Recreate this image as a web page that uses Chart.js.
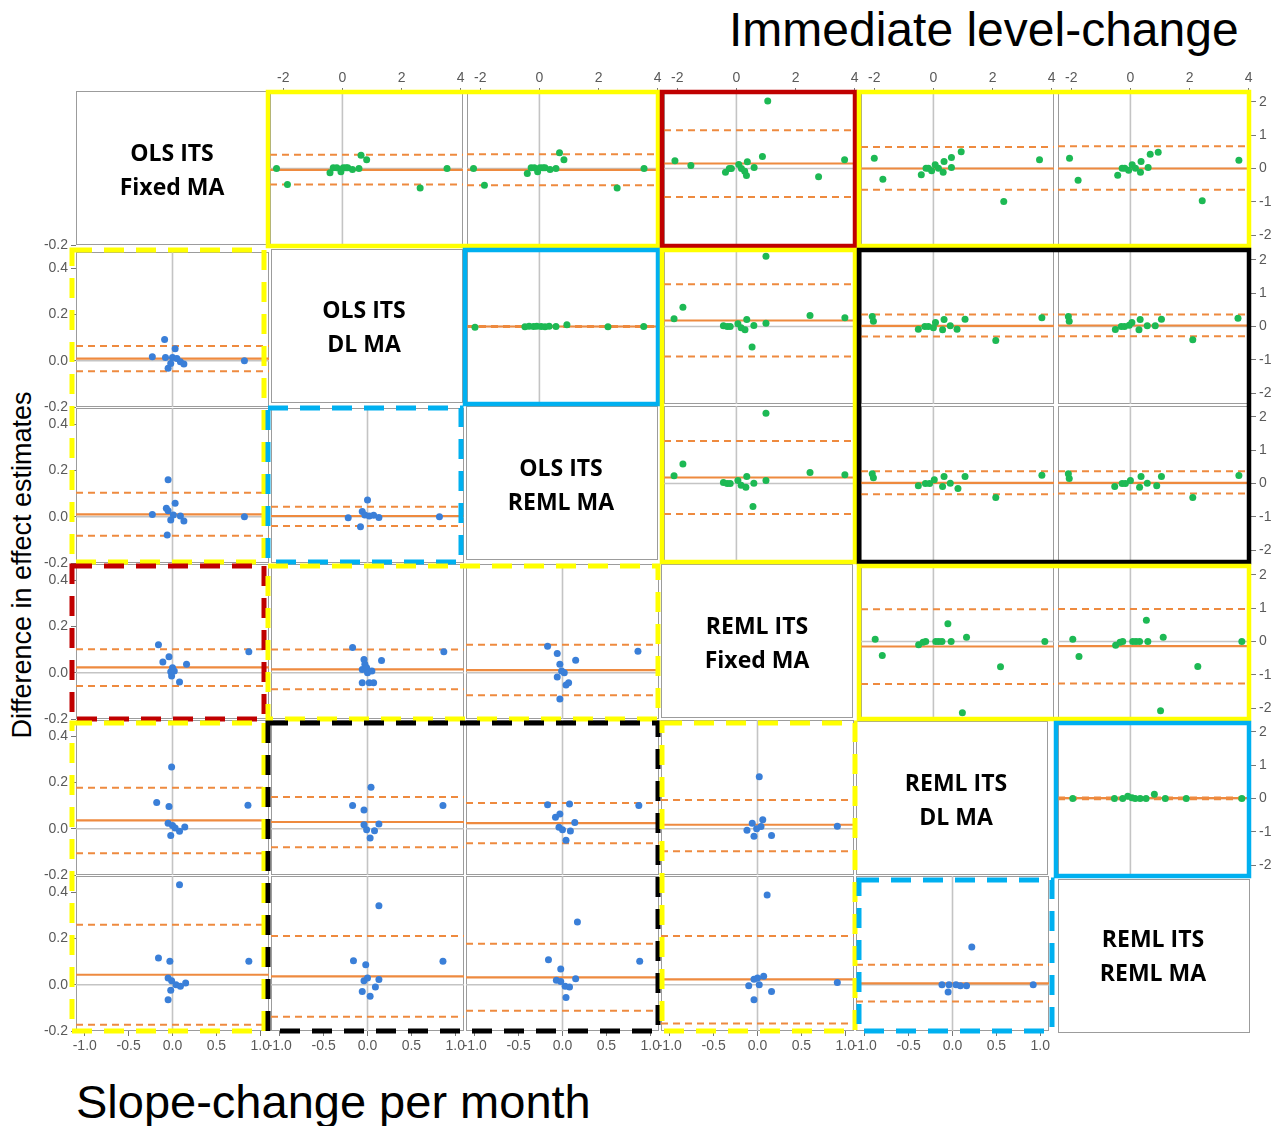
<!DOCTYPE html>
<html><head><meta charset="utf-8">
<script src="https://cdn.jsdelivr.net/npm/chart.js@4"></script>
<style>
html,body{margin:0;padding:0;background:#fff;}
body{width:1272px;height:1126px;overflow:hidden;position:relative;font-family:"Liberation Sans",Arial,sans-serif;}
canvas.p{position:absolute;}
.lab{position:absolute;width:220px;text-align:center;font-family:"Open Sans",sans-serif;font-weight:700;font-size:23px;line-height:34px;color:#000;}
.ttl{position:absolute;white-space:nowrap;color:#000;font-family:"Liberation Sans",Arial,sans-serif;}
svg{position:absolute;left:0;top:0;}
</style></head><body>
<div class="ttl" style="left:729px;top:2px;font-size:48px;">Immediate level-change</div>
<div class="ttl" style="left:76px;top:1074px;font-size:47px;">Slope-change per month</div>
<div class="ttl" style="left:22px;top:565px;font-size:27px;transform:translate(-50%,-50%) rotate(-90deg);">Difference in effect estimates</div>
<script>
// ---------- labels ----------
const methodNames = [["OLS ITS","Fixed MA"],["OLS ITS","DL MA"],["OLS ITS","REML MA"],["REML ITS","Fixed MA"],["REML ITS","DL MA"],["REML ITS","REML MA"]];
const upperXTicks = [-2,0,2,4];
const upperYTicks = [-2,-1,0,1,2];
const lowerXTicks = [-1,-0.5,0,0.5,1];
const lowerYTicks = [-0.2,0,0.2,0.4];

// ---------- upper triangle: immediate level-change (x = mean, y = difference); stats = [mean, lower LoA, upper LoA] ----------
const U01x = [-2.23,-1.86,-0.42,-0.31,-0.19,-0.05,0.03,0.12,0.18,0.34,0.56,0.63,0.82,2.63,3.54];
const U01y = [0,-0.48,-0.13,0.02,0.02,-0.10,0.02,0.02,0.02,-0.03,0,0.40,0.26,-0.59,0];
const U01s = [-0.04,-0.48,0.41];
const U02x = [-2.23,-1.86,-0.41,-0.28,-0.17,-0.06,0.02,0.12,0.19,0.36,0.56,0.68,0.83,2.63,3.54];
const U02y = [0,-0.50,-0.15,0.02,0.02,-0.10,0.02,0.02,0.02,-0.03,0,0.47,0.26,-0.59,0];
const U02s = [-0.04,-0.50,0.43];
const U03x = [-2.08,-1.54,-0.37,-0.24,-0.17,0.08,0.17,0.28,0.34,0.37,0.60,0.88,1.06,2.78,3.66];
const U03y = [0.23,0.09,-0.11,0,0,0.12,0,-0.08,-0.21,0.20,0.03,0.36,2.03,-0.25,0.26];
const U03s = [0.15,-0.86,1.15];
const U04x = [-2.0,-1.71,-0.41,-0.25,-0.17,-0.06,0.06,0.17,0.33,0.36,0.61,0.61,0.94,2.38,3.59];
const U04y = [0.31,-0.32,-0.19,0.01,0.01,-0.07,0.11,0.01,-0.11,0.21,0.33,0.03,0.50,-0.99,0.26];
const U04s = [0.0,-0.64,0.65];
const U05x = [-2.06,-1.77,-0.43,-0.28,-0.19,-0.06,0.06,0.17,0.34,0.36,0.60,0.67,0.94,2.43,3.67];
const U05y = [0.31,-0.35,-0.20,0.01,0.01,-0.05,0.11,0.01,-0.11,0.21,0.03,0.43,0.49,-0.97,0.25];
const U05s = [0.0,-0.64,0.67];
const U12x = [-2.18,-0.49,-0.35,-0.2,-0.09,0.06,0.19,0.33,0.56,0.93,2.32,3.53];
const U12y = [-0.02,-0.01,0.01,0,0.01,0,-0.01,0.01,0,0.05,-0.01,0];
const U12s = [0.0,-0.015,0.015];
const U13x = [-2.11,-1.81,-0.44,-0.31,-0.21,0.05,0.16,0.29,0.35,0.53,0.59,1.0,1.0,2.49,3.67];
const U13y = [0.23,0.58,0.02,0,0,0.08,-0.04,-0.10,0.21,-0.62,0.03,2.11,0.10,0.33,0.26];
const U13s = [0.18,-0.90,1.27];
const U14x = [-2.07,-2.03,-0.51,-0.29,-0.17,0,0.07,0.31,0.36,0.57,0.8,1.07,2.11,3.67];
const U14y = [0.30,0.16,-0.08,0,0,-0.04,0.12,-0.10,0.21,0.02,-0.08,0.22,-0.42,0.26];
const U14s = [0.02,-0.30,0.36];
const U15x = [-2.1,-2.07,-0.51,-0.31,-0.2,-0.04,0.05,0.29,0.33,0.57,0.84,1.05,2.11,3.64];
const U15y = [0.30,0.16,-0.09,0,0,0.04,0.12,-0.10,0.21,0.02,0.02,0.22,-0.40,0.25];
const U15s = [0.03,-0.29,0.36];
const U23x = [-2.11,-1.81,-0.44,-0.31,-0.21,0.05,0.16,0.32,0.35,0.56,0.59,1.0,1.0,2.49,3.67];
const U23y = [0.23,0.59,0.03,0,0,0.09,-0.05,-0.11,0.21,-0.69,0.01,2.11,0.09,0.33,0.26];
const U23s = [0.18,-0.92,1.28];
const U24x = [-2.07,-2.03,-0.51,-0.27,-0.13,0.03,0.31,0.36,0.57,0.83,1.07,2.11,3.67];
const U24y = [0.29,0.17,-0.07,0,0,0.11,-0.09,0.21,0.01,-0.15,0.21,-0.42,0.25];
const U24s = [0.02,-0.32,0.37];
const U25x = [-2.1,-2.07,-0.53,-0.28,-0.17,0,0.31,0.36,0.57,0.89,1.05,2.11,3.67];
const U25y = [0.29,0.15,-0.09,0,0,0.09,-0.11,0.21,0.01,-0.07,0.21,-0.42,0.24];
const U25s = [0.02,-0.30,0.37];
const U34x = [-1.97,-1.73,-0.5,-0.35,-0.26,0.08,0.18,0.29,0.49,0.6,0.98,1.12,2.27,3.77];
const U34y = [0.07,-0.42,-0.10,-0.02,0,0,0,0,0.53,0,-2.14,0.13,-0.76,0];
const U34s = [-0.15,-1.28,0.97];
const U35x = [-1.95,-1.74,-0.5,-0.35,-0.26,0.08,0.19,0.31,0.54,0.59,1.02,1.11,2.28,3.77];
const U35y = [0.07,-0.45,-0.11,-0.02,0,0,0,0,0.64,0,-2.08,0.13,-0.75,0];
const U35s = [-0.14,-1.26,0.98];
const U45x = [-1.95,-0.54,-0.26,-0.09,0.05,0.16,0.33,0.53,0.81,1.18,1.89,3.77];
const U45y = [0,0,0,0.07,0.02,0,0,0,0.13,0,0,0];
const U45s = [0.01,-0.02,0.03];

// ---------- lower triangle: slope-change per month ----------
const L10x = [-0.23,-0.09,-0.08,-0.05,-0.02,0.0,0.03,0.05,0.09,0.13,0.82];
const L10y = [0.017,0.092,0.014,-0.033,-0.012,0.014,0.052,0.01,-0.004,-0.014,0.0];
const L10s = [0.009,-0.046,0.064];
const L20x = [-0.23,-0.05,-0.07,-0.05,0.03,-0.02,0.01,0.09,0.13,-0.06,0.82];
const L20y = [0.01,0.16,0.036,0.026,0.058,-0.014,0.007,0.003,-0.019,-0.079,0.0];
const L20s = [0.01,-0.082,0.104];
const L21x = [-0.22,-0.08,-0.06,0,-0.03,0.02,0.07,0.13,0.82];
const L21y = [-0.004,-0.043,0.022,0.072,0.007,0.003,0.006,-0.003,0.0];
const L21s = [0.003,-0.04,0.043];
const L30x = [-0.16,-0.11,-0.04,-0.02,0,0.02,-0.01,0.08,0.16,0.87];
const L30y = [0.121,0.046,0.069,0.004,0.021,0.007,-0.014,-0.04,0.037,0.091];
const L30s = [0.023,-0.057,0.101];
const L31x = [-0.17,-0.06,-0.06,-0.04,-0.03,-0.01,0,0.02,0.07,0.05,0.16,0.87];
const L31y = [0.109,0.014,-0.043,0.057,0.036,0.021,0,-0.043,-0.043,0.007,0.053,0.091];
const L31s = [0.014,-0.071,0.10];
const L32x = [-0.17,-0.06,-0.03,-0.06,-0.01,0.02,-0.03,0.04,0.07,0.15,0.86];
const L32y = [0.114,0.083,0.036,-0.019,0.007,0,-0.114,-0.053,-0.043,0.054,0.093];
const L32s = [0.011,-0.097,0.121];
const L40x = [-0.18,-0.04,-0.01,-0.05,-0.02,0,0.03,0.08,0.14,0.86];
const L40y = [0.113,0.096,0.267,0.024,-0.029,0.014,0.003,-0.011,0.007,0.101];
const L40s = [0.036,-0.106,0.177];
const L41x = [-0.17,-0.04,0.04,-0.04,-0.01,0.03,0.08,0.13,0.86];
const L41y = [0.1,0.081,0.179,0.017,-0.004,-0.04,-0.009,0.02,0.1];
const L41s = [0.029,-0.08,0.137];
const L42x = [-0.17,-0.08,-0.03,0.08,-0.04,0,0.04,0.09,0.14,0.87];
const L42y = [0.103,0.049,0.064,0.107,0.006,-0.004,-0.05,-0.01,0.027,0.1];
const L42s = [0.024,-0.063,0.111];
const L43x = [0.02,-0.12,-0.06,-0.04,-0.01,0.04,0.06,0.16,0.91];
const L43y = [0.224,-0.007,0.024,-0.033,0,0.01,0.039,-0.029,0.011];
const L43s = [0.017,-0.097,0.124];
const L50x = [-0.16,-0.03,0.08,-0.05,-0.01,-0.02,-0.05,0.04,0.09,0.15,0.87];
const L50y = [0.115,0.101,0.432,0.029,0.017,-0.024,-0.065,0,-0.007,0.007,0.101];
const L50s = [0.043,-0.173,0.259];
const L51x = [-0.16,-0.02,0.13,-0.04,0,-0.06,0.03,0.09,0.13,0.86];
const L51y = [0.104,0.086,0.341,0.017,0.029,-0.029,-0.05,-0.01,0.022,0.101];
const L51s = [0.036,-0.138,0.21];
const L52x = [-0.16,-0.02,0.17,-0.07,-0.02,0.03,0.08,0.04,0.15,0.88];
const L52y = [0.108,0.068,0.271,0.019,0.014,-0.007,-0.01,-0.055,0.026,0.101];
const L52s = [0.032,-0.112,0.177];
const L53x = [0.11,-0.1,-0.04,0,0.07,-0.04,0.02,0.16,0.91];
const L53y = [0.388,-0.004,0.024,0.029,0.036,-0.065,0,-0.029,0.01];
const L53s = [0.023,-0.168,0.21];
const L54x = [0.22,-0.12,-0.05,-0.04,0.04,0.09,0.16,0.92];
const L54y = [0.163,0,-0.032,0,0,-0.004,-0.004,0];
const L54s = [0.006,-0.073,0.086];

const upperPanels = [
  [0,1,U01x,U01y,U01s],[0,2,U02x,U02y,U02s],[0,3,U03x,U03y,U03s],[0,4,U04x,U04y,U04s],[0,5,U05x,U05y,U05s],
  [1,2,U12x,U12y,U12s],[1,3,U13x,U13y,U13s],[1,4,U14x,U14y,U14s],[1,5,U15x,U15y,U15s],
  [2,3,U23x,U23y,U23s],[2,4,U24x,U24y,U24s],[2,5,U25x,U25y,U25s],
  [3,4,U34x,U34y,U34s],[3,5,U35x,U35y,U35s],
  [4,5,U45x,U45y,U45s]
];
const lowerPanels = [
  [1,0,L10x,L10y,L10s],
  [2,0,L20x,L20y,L20s],[2,1,L21x,L21y,L21s],
  [3,0,L30x,L30y,L30s],[3,1,L31x,L31y,L31s],[3,2,L32x,L32y,L32s],
  [4,0,L40x,L40y,L40s],[4,1,L41x,L41y,L41s],[4,2,L42x,L42y,L42s],[4,3,L43x,L43y,L43s],
  [5,0,L50x,L50y,L50s],[5,1,L51x,L51y,L51s],[5,2,L52x,L52y,L52s],[5,3,L53x,L53y,L53s],[5,4,L54x,L54y,L54s]
];

// ---------- layout ----------
const UX=[-2.45,4.08], UY=[-2.33,2.33], LX=[-1.1,1.1], LY=[-0.2,0.4696];
function upperRect(r,c){const x0=342.7+196.8*(c-1), y0=169+157.5*r;
  return {left:Math.round(x0+UX[0]*29.5), top:Math.round(y0-UY[1]*33.3), w:Math.round((UX[1]-UX[0])*29.5), h:Math.round((UY[1]-UY[0])*33.3)};}
function lowerRect(r,c){const x0=172.3+195*c, y0=360.7+156.1*(r-1);
  return {left:Math.round(x0+LX[0]*87.5), top:Math.round(y0-LY[1]*231.5), w:Math.round((LX[1]-LX[0])*87.5), h:Math.round((LY[1]-LY[0])*231.5)};}

const ORANGE='#EE8A3F', GREEN='#1DB954', BLUE='#3A7FD8', ZERO='#C4C4C4';
const framePlugin={id:'frame',beforeDatasetsDraw(c){const a=c.chartArea,ctx=c.ctx;ctx.save();ctx.strokeStyle='#9c9c9c';ctx.lineWidth=1;
  ctx.strokeRect(a.left+0.5,a.top+0.5,a.right-a.left-1,a.bottom-a.top-1);ctx.restore();}};

function scaleCfg(horizontal,pos,show,range,ticksVals,fmt,size,tickLen,pad){
  return {type:'linear',position:pos,min:range[0],max:range[1],display:show,
    grid:{display:show,drawOnChartArea:false,drawTicks:true,tickLength:tickLen,color:'#777',lineWidth:1},
    border:{display:false},
    ticks:{font:{family:'Liberation Sans',size:14},color:'#595959',padding:pad,autoSkip:false,maxRotation:0,
      callback:(v)=>fmt(v)},
    afterBuildTicks:(s)=>{s.ticks=ticksVals.map(v=>({value:v}));},
    afterFit:(s)=>{
      if(show){ if(horizontal){s.height=size;}else{s.width=size;} }
      else { s.width=0; s.height=0; }
      s.paddingLeft=0;s.paddingRight=0;s.paddingTop=0;s.paddingBottom=0;}
  };
}

function makeChart(o){
  const E=16,L=58,R=28,T=22,B=26;
  const ax=o.axes;
  const pL=E+(ax.left?L:0), pR=E+(ax.right?R:0), pT=E+(ax.top?T:0), pB=E+(ax.bottom?B:0);
  const cv=document.createElement('canvas'); cv.className='p';
  cv.width=o.rect.w+pL+pR; cv.height=o.rect.h+pT+pB;
  cv.style.left=(o.rect.left-pL)+'px'; cv.style.top=(o.rect.top-pT)+'px';
  document.body.appendChild(cv);
  const xr=o.xr, yr=o.yr, ds=[];
  if(o.px){
    ds.push({data:o.px.map((v,i)=>({x:v,y:o.py[i]})),backgroundColor:o.color,borderWidth:0,pointRadius:3.5,order:0});
    const [m,lo,hi]=o.stats;
    ds.push({data:[{x:xr[0],y:m},{x:xr[1],y:m}],showLine:true,borderColor:ORANGE,borderWidth:2.2,pointRadius:0,order:1});
    ds.push({data:[{x:xr[0],y:lo},{x:xr[1],y:lo}],showLine:true,borderColor:ORANGE,borderWidth:2,borderDash:[7,5],pointRadius:0,order:2});
    ds.push({data:[{x:xr[0],y:hi},{x:xr[1],y:hi}],showLine:true,borderColor:ORANGE,borderWidth:2,borderDash:[7,5],pointRadius:0,order:2});
    ds.push({data:[{x:xr[0],y:0},{x:xr[1],y:0}],showLine:true,borderColor:ZERO,borderWidth:1.6,pointRadius:0,order:3});
    ds.push({data:[{x:0,y:yr[0]},{x:0,y:yr[1]}],showLine:true,borderColor:ZERO,borderWidth:1.6,pointRadius:0,order:3});
  }
  const xShow=!!(ax.top||ax.bottom), yShow=!!(ax.left||ax.right);
  new Chart(cv,{type:'scatter',data:{datasets:ds},plugins:[framePlugin],
    options:{responsive:false,maintainAspectRatio:false,devicePixelRatio:1,animation:false,events:[],
      layout:{padding:{left:E,right:E,top:E,bottom:E},autoPadding:false},
      plugins:{legend:{display:false},tooltip:{enabled:false}},
      scales:{
        x:scaleCfg(true,ax.top?'top':'bottom',xShow,xr,o.xt||[],o.xf||(v=>v),ax.top?T:B,ax.top?3:5,ax.top?1:2),
        y:scaleCfg(false,ax.right?'right':'left',yShow,yr,o.yt||[],o.yf||(v=>v),ax.right?R:L,5,3)
      }}});
}
const fmtInt=(v)=>String(Math.round(v));
const fmt1=(v)=>v.toFixed(1);

upperPanels.forEach(([r,c,px,py,st])=>{
  makeChart({rect:upperRect(r,c),xr:UX,yr:UY,axes:{top:r===0,right:c===5},xt:upperXTicks,yt:upperYTicks,xf:fmtInt,yf:fmtInt,
    px,py,stats:st,color:GREEN});
});
lowerPanels.forEach(([r,c,px,py,st])=>{
  makeChart({rect:lowerRect(r,c),xr:LX,yr:LY,axes:{left:c===0,bottom:r===5},xt:lowerXTicks,yt:lowerYTicks,xf:fmt1,yf:fmt1,
    px,py,stats:st,color:BLUE});
});
// diagonal cells (method names)
const diagCenters=[[172,169],[364,326],[561,484],[757,642],[956,799],[1153,955]];
for(let i=0;i<6;i++){
  const lr=lowerRect(1,Math.min(i,4)), ur=upperRect(Math.min(i,4),1);
  const rect={left:(i<5?lr.left:1058),top:(i<5?ur.top:879),w:192,h:154};
  makeChart({rect,xr:LX,yr:LY,axes:{left:i===0},yt:[-0.2],yf:fmt1});
  const d=document.createElement('div');d.className='lab';
  d.style.left=(diagCenters[i][0]-110)+'px';d.style.top=(diagCenters[i][1]-34)+'px';
  d.innerHTML=methodNames[i][0]+'<br>'+methodNames[i][1];
  document.body.appendChild(d);
}

// ---------- highlight frames ----------
const Xe=[70,266,463,660,857,1054,1251], Ye=[90,248,406,564,721,878,1033];
const frames=[
  [0,0,1,2,'#FFFF00',0],[0,0,3,3,'#C00000',0],[0,0,4,5,'#FFFF00',0],
  [1,1,2,2,'#00B0F0',0],[1,2,3,3,'#FFFF00',0],[1,2,4,5,'#000000',0],
  [3,3,4,5,'#FFFF00',0],[4,4,5,5,'#00B0F0',0],
  [1,2,0,0,'#FFFF00',1],[2,2,1,1,'#00B0F0',1],[3,3,0,0,'#C00000',1],[3,3,1,2,'#FFFF00',1],
  [4,5,0,0,'#FFFF00',1],[4,5,1,2,'#000000',1],[4,5,3,3,'#FFFF00',1],[5,5,4,4,'#00B0F0',1]
];
const NS='http://www.w3.org/2000/svg';
const svg=document.createElementNS(NS,'svg');svg.setAttribute('width','1272');svg.setAttribute('height','1126');
frames.forEach(([r0,r1,c0,c1,col,dash])=>{
  const rc=document.createElementNS(NS,'rect');
  const x1=Xe[c0]+2,x2=Xe[c1+1]-2,y1=Ye[r0]+2,y2=Ye[r1+1]-2;
  rc.setAttribute('x',x1);rc.setAttribute('y',y1);rc.setAttribute('width',x2-x1);rc.setAttribute('height',y2-y1);
  rc.setAttribute('fill','none');rc.setAttribute('stroke',col);rc.setAttribute('stroke-width',dash?5:4.5);
  if(dash)rc.setAttribute('stroke-dasharray','20 12');
  svg.appendChild(rc);
});
document.body.appendChild(svg);
</script>
</body></html>
